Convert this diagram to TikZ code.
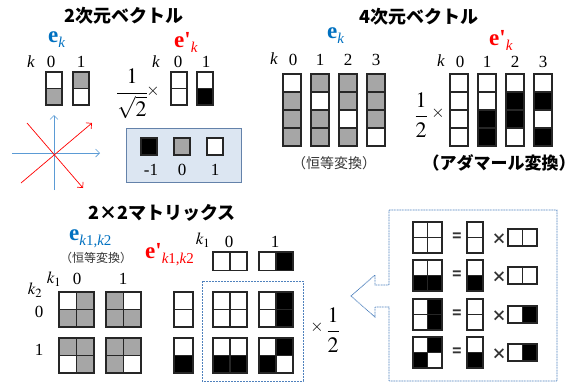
\documentclass[tikz,border=0pt]{standalone}
\usepackage{mathptmx}
\usepackage{fontspec}
\setmainfont{Liberation Serif}
\newfontfamily\jpfont{Noto Sans CJK JP}
\usetikzlibrary{arrows.meta}

\definecolor{cgray}{RGB}{166,166,166}
\definecolor{eblue}{RGB}{0,112,192}
\definecolor{ered}{RGB}{255,0,0}
\definecolor{axblue}{RGB}{91,155,213}
\definecolor{legbg}{RGB}{220,230,242}
\definecolor{legline}{RGB}{100,130,170}
\definecolor{dotline}{RGB}{79,129,189}

\tikzset{
    cellbox/.style={draw=black!85, line width=1.1pt},
    lbl/.style={inner sep=0pt, font=\fontsize{17}{17}\selectfont},
    frac/.style={inner sep=0pt, font=\fontsize{22}{22}\selectfont},
    ttl/.style={inner sep=0pt, font=\jpfont\bfseries\fontsize{18}{18}\selectfont},
    evec/.style={inner sep=0pt, anchor=base west},
    eqs/.style={inner sep=0pt, text=black!80, font=\jpfont\bfseries\fontsize{15}{15}\selectfont},
    axis/.style={line width=0.7pt, -{Straight Barb[length=4pt]}},
}

\newcommand{\colvec}[5]{%
    \foreach \cc [count=\ci from 0] in {#5}
        {\filldraw[cellbox, fill=\cc] ({#1}, {#2+\ci*#4}) rectangle ++(#3, #4);}}
\newcommand{\rowvec}[5]{%
    \foreach \cc [count=\ci from 0] in {#5}
        {\filldraw[cellbox, fill=\cc] ({#1+\ci*#3}, {#2}) rectangle ++(#3, #4);}}
\newcommand{\sqmat}[6]{\rowvec{#1}{#2}{#3}{#4}{#5}\rowvec{#1}{#2+#4}{#3}{#4}{#6}}
\newcommand{\evlabel}[2]{{\fontsize{23}{23}\selectfont\bfseries e#1}\raisebox{-5pt}{\fontsize{15}{15}\selectfont #2}}
\newcommand{\eqrow}[5]{%
    \sqmat{413}{#1}{14.5}{15.5}{#2}{#3}
    \node[eqs] (eq#1) at (457, {#1+15.5}) {=};
    \colvec{467}{#1}{16}{15.5}{#4}
    \node[eqs] (tm#1) at (499, {#1+17}) {×};
    \rowvec{508}{#1+7}{14.5}{17}{#5}}

\begin{document}
\begin{tikzpicture}[x=1pt, y=-1pt]
    \useasboundingbox (0,0) rectangle (584,383);

    % 2-dim
    \node[ttl] (t2d) at (124, 16) {2次元ベクトル};
    \node[evec, text=eblue] (e2) at (48, 42) {\evlabel{}{\itshape k}};
    \node[lbl] (k2a) at (31, 62) {\itshape k};
    \node[lbl] (k2a0) at (51, 62) {0};
    \node[lbl] (k2a1) at (81, 62) {1};
    \colvec{46}{72}{16}{16.5}{white,cgray}
    \colvec{73}{72}{16}{16.5}{cgray,white}

    \node[evec, text=ered] (f2) at (174, 47) {\evlabel{\textquotesingle}{\itshape k}};
    \node[lbl] (k2b) at (156, 62) {\itshape k};
    \node[lbl] (k2b0) at (178, 62) {0};
    \node[lbl] (k2b1) at (206, 62) {1};
    \node[frac] (fr2) at (132, 94) {$\displaystyle\frac{1}{\sqrt{2}}$};
    \node[lbl] (x2) at (153, 91) {$\times$};
    \colvec{171}{72}{16}{16.5}{white,white}
    \colvec{197}{72}{16}{16.5}{white,black}

    \coordinate (o) at (54, 153);
    \coordinate (vb) at (54, 190);
    \coordinate (vt) at (54, 115);
    \coordinate (hl) at (12, 153);
    \coordinate (hr) at (100, 153);
    \coordinate (ra) at (21, 183);
    \coordinate (rb) at (92, 123);
    \coordinate (sa) at (27, 123);
    \coordinate (sb) at (83, 188);
    \draw[axis, axblue] (vb) -- (vt);
    \draw[axis, axblue] (hl) -- (hr);
    \draw[axis, ered] (ra) -- (rb);
    \draw[axis, ered] (sa) -- (sb);

    \filldraw[fill=legbg, draw=legline, line width=0.8pt] (126, 128) rectangle (241, 182);
    \filldraw[cellbox, fill=black] (141, 138) rectangle ++(16, 17);
    \filldraw[cellbox, fill=cgray] (174, 138) rectangle ++(16, 17);
    \filldraw[cellbox, fill=white] (207, 138) rectangle ++(16, 17);
    \node[lbl] (lm) at (151, 170) {-1};
    \node[lbl] (lz) at (182, 170) {0};
    \node[lbl] (lp) at (215, 170) {1};

    % 4-dim
    \node[ttl] (t4d) at (419, 17) {4次元ベクトル};
    \node[evec, text=eblue] (e4) at (327, 38) {\evlabel{}{\itshape k}};
    \node[lbl] (k4a) at (274, 59) {\itshape k};
    \foreach \n/\x in {0/293, 1/320, 2/348, 3/376}
        \node[lbl] (k4a\n) at (\x, 60) {\n};
    \colvec{283}{74}{18}{18}{white,cgray,cgray,cgray}
    \colvec{311}{74}{18}{18}{cgray,white,cgray,cgray}
    \colvec{339}{74}{18}{18}{cgray,cgray,white,cgray}
    \colvec{367}{74}{18}{18}{cgray,cgray,cgray,white}
    \node[inner sep=0pt, text=black!80, font=\jpfont\fontsize{14}{14}\selectfont] (id4) at (334, 163) {（恒等変換）};

    \node[evec, text=ered] (f4) at (489, 45) {\evlabel{\textquotesingle}{\itshape k}};
    \node[lbl] (k4b) at (441, 61) {\itshape k};
    \foreach \n/\x in {0/460, 1/487, 2/515, 3/543}
        \node[lbl] (k4b\n) at (\x, 62) {\n};
    \node[frac] (fr4) at (421, 115) {$\displaystyle\frac{1}{2}$};
    \node[lbl] (x4) at (438, 113) {$\times$};
    \colvec{450}{74}{18}{18}{white,white,white,white}
    \colvec{478}{74}{18}{18}{white,white,black,black}
    \colvec{506}{74}{18}{18}{white,black,black,white}
    \colvec{534}{74}{18}{18}{white,black,white,black}
    \node[ttl, font=\jpfont\bfseries\fontsize{17}{17}\selectfont] (hd4) at (499, 163) {（アダマール変換）};

    % 2x2 matrix
    \node[ttl] (tmt) at (162, 213) {2×2マトリックス};
    \node[evec, text=eblue] (em) at (69, 240) {\evlabel{}{\itshape k\upshape 1,\itshape k\upshape 2}};
    \node[inner sep=0pt, text=black!80, font=\jpfont\fontsize{12}{12}\selectfont] (idm) at (96, 258) {（恒等変換）};
    \node[lbl] (km1) at (54, 279) {$k_1$};
    \node[lbl] (km10) at (77, 279) {0};
    \node[lbl] (km11) at (123, 279) {1};
    \node[lbl] (km2) at (35, 290) {$k_2$};
    \node[lbl] (km20) at (39, 312) {0};
    \node[lbl] (km21) at (39, 350) {1};
    \sqmat{59}{292}{17.5}{17.5}{white,cgray}{cgray,cgray}
    \sqmat{106}{292}{17.5}{17.5}{cgray,white}{cgray,cgray}
    \sqmat{59}{338}{17.5}{17.5}{cgray,cgray}{white,cgray}
    \sqmat{106}{338}{17.5}{17.5}{cgray,cgray}{cgray,white}

    \node[evec, text=ered] (fm) at (145, 258) {\evlabel{\textquotesingle}{\itshape k\upshape 1,\itshape k\upshape 2}};
    \node[lbl] (kn1) at (203, 240) {$k_1$};
    \node[lbl] (kn10) at (229, 242) {0};
    \node[lbl] (kn11) at (275, 242) {1};
    \rowvec{213}{252}{17}{18.5}{white,white}
    \rowvec{259}{252}{17}{18.5}{white,black}
    \colvec{174}{292}{19}{17.5}{white,white}
    \colvec{174}{338}{19}{17.5}{white,black}
    \sqmat{213}{292}{17}{17.5}{white,white}{white,white}
    \sqmat{259}{292}{17}{17.5}{white,black}{white,black}
    \sqmat{213}{338}{17}{17.5}{white,white}{black,black}
    \sqmat{259}{338}{17}{17.5}{white,black}{black,white}
    \draw[dotline, line width=0.8pt, dash pattern=on 2pt off 1pt] (202, 281) rectangle (303, 381);
    \node[lbl] (xm) at (317, 327) {$\times$};
    \node[frac] (frm) at (333, 330) {$\displaystyle\frac{1}{2}$};

    % callout
    \draw[dotline, line width=0.8pt, dash pattern=on 1pt off 0.6pt]
        (389, 210) -- (557, 210) -- (557, 381) -- (389, 381) -- (389, 307) -- (375, 307)
        -- (375, 317) -- (351, 296) -- (375, 275) -- (375, 285) -- (389, 285) -- cycle;
    \eqrow{222}{white,white}{white,white}{white,white}{white,white}
    \eqrow{260}{white,white}{black,black}{white,black}{white,white}
    \eqrow{299}{white,black}{white,black}{white,white}{white,black}
    \eqrow{337}{white,black}{black,white}{white,black}{white,black}
\end{tikzpicture}
\end{document}
